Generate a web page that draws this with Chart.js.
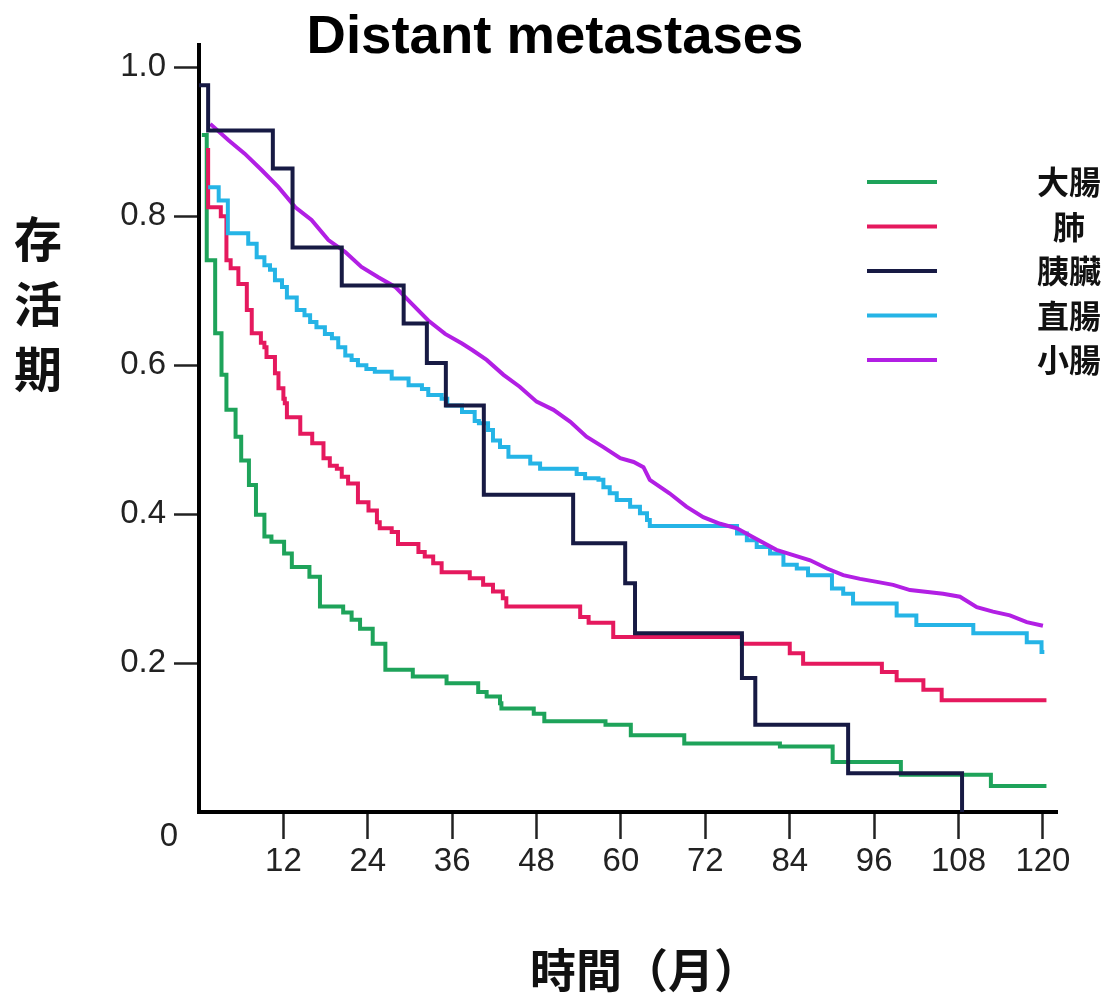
<!DOCTYPE html>
<html>
<head>
<meta charset="utf-8">
<script src="https://cdn.jsdelivr.net/npm/chart.js@4.4.1/dist/chart.umd.min.js"></script>
<style>
  html, body { margin: 0; padding: 0; background: #ffffff; overflow: hidden; }
  canvas { display: block; }
</style>
</head>
<body>
<canvas id="c" width="1110" height="997"></canvas>
<script>
// ---------------- data ----------------
const chartTitle = 'Distant metastases';
const xAxisTitle = '時間（月）';
const yAxisTitle = '存活期';
const originLabel = '0';
const seriesNames = ['大腸', '肺', '胰臟', '直腸', '小腸'];
const xTickValues = [12, 24, 36, 48, 60, 72, 84, 96, 108, 120];
const yTickValues = [0.2, 0.4, 0.6, 0.8, 1.0];

// 大腸 (colon)
const colonMonths = [0.4, 1.1, 2.3, 3.2, 3.9, 5.2, 6.0, 7.1, 8.1, 9.3, 10.3, 12.1, 13.2, 15.7, 17.2, 20.5, 21.7, 22.9, 24.7, 26.5, 30.4, 35.2, 39.7, 40.9, 42.8, 43.0, 47.6, 49.1, 57.8, 61.4, 69.0, 82.6, 90.1, 99.8, 112.6, 120.5];
const colonSurv   = [0.909, 0.741, 0.643, 0.587, 0.540, 0.504, 0.472, 0.439, 0.399, 0.370, 0.363, 0.347, 0.329, 0.316, 0.276, 0.268, 0.258, 0.246, 0.226, 0.191, 0.182, 0.173, 0.161, 0.155, 0.146, 0.139, 0.132, 0.122, 0.117, 0.103, 0.092, 0.088, 0.067, 0.050, 0.035, 0.035];

// 肺 (lung)
const lungMonths = [1.0, 1.3, 3.1, 3.9, 4.5, 5.6, 6.8, 7.5, 8.8, 9.3, 9.6, 10.8, 11.3, 12.0, 12.2, 12.5, 14.4, 16.1, 17.7, 18.6, 19.6, 20.3, 21.2, 22.6, 24.1, 25.3, 25.7, 27.4, 28.3, 31.2, 32.1, 33.3, 34.5, 38.5, 40.4, 41.8, 43.2, 43.7, 54.2, 55.4, 58.9, 77.2, 84.0, 85.9, 97.1, 99.2, 103.0, 105.6, 120.5];
const lungSurv   = [0.889, 0.812, 0.800, 0.741, 0.730, 0.709, 0.674, 0.643, 0.630, 0.624, 0.611, 0.589, 0.569, 0.555, 0.549, 0.530, 0.508, 0.495, 0.475, 0.465, 0.461, 0.450, 0.441, 0.416, 0.405, 0.389, 0.381, 0.376, 0.360, 0.349, 0.343, 0.334, 0.322, 0.314, 0.305, 0.296, 0.287, 0.276, 0.262, 0.254, 0.235, 0.226, 0.213, 0.199, 0.188, 0.177, 0.164, 0.150, 0.150];

// 胰臟 (pancreas)
const pancreasMonths = [0, 1.3, 10.5, 13.3, 20.3, 29.1, 32.4, 35.1, 40.5, 53.2, 60.6, 62.0, 77.2, 79.1, 92.3, 108.5];
const pancreasSurv   = [0.976, 0.915, 0.864, 0.758, 0.707, 0.656, 0.603, 0.546, 0.426, 0.361, 0.307, 0.240, 0.180, 0.117, 0.052, 0.0];

// 直腸 (rectum)
const rectumMonths = [1.3, 2.8, 4.1, 7.0, 8.2, 9.3, 10.1, 10.8, 11.8, 12.5, 13.9, 15.0, 15.8, 16.7, 17.9, 18.9, 19.8, 20.8, 21.7, 22.6, 23.8, 25.0, 27.4, 29.8, 31.7, 32.6, 34.5, 35.3, 37.4, 39.2, 39.8, 41.1, 41.8, 42.8, 44.0, 47.1, 48.5, 53.7, 54.9, 56.8, 57.5, 58.4, 59.4, 61.3, 62.7, 63.7, 64.1, 76.5, 77.9, 79.3, 81.2, 83.1, 85.0, 86.6, 90.0, 91.6, 93.0, 99.2, 102.0, 110.1, 117.7, 119.8, 120.2];
const rectumSurv   = [0.839, 0.821, 0.777, 0.763, 0.745, 0.734, 0.728, 0.714, 0.705, 0.691, 0.674, 0.667, 0.658, 0.651, 0.642, 0.636, 0.624, 0.613, 0.607, 0.600, 0.595, 0.591, 0.582, 0.573, 0.568, 0.560, 0.555, 0.546, 0.537, 0.525, 0.522, 0.513, 0.499, 0.490, 0.477, 0.468, 0.461, 0.454, 0.448, 0.446, 0.436, 0.428, 0.419, 0.410, 0.401, 0.392, 0.384, 0.374, 0.365, 0.356, 0.347, 0.332, 0.327, 0.318, 0.300, 0.293, 0.280, 0.264, 0.251, 0.240, 0.228, 0.215, 0.215];

// 小腸 (small intestine)
const smallIntMonths = [1.6, 4.2, 6.5, 8.9, 11.3, 13.7, 16.0, 18.4, 20.8, 23.1, 25.5, 27.9, 30.2, 32.6, 35.0, 37.4, 38.9, 40.9, 43.3, 45.6, 48.0, 50.4, 52.8, 55.1, 57.5, 59.9, 61.8, 63.2, 64.1, 66.9, 69.3, 71.7, 74.1, 76.5, 78.8, 82.1, 84.5, 86.9, 89.3, 91.6, 94.0, 96.4, 98.7, 101.1, 105.8, 108.2, 110.6, 112.9, 115.3, 117.7, 120.0];
const smallIntSurv   = [0.924, 0.902, 0.884, 0.862, 0.839, 0.812, 0.795, 0.768, 0.752, 0.732, 0.718, 0.705, 0.683, 0.660, 0.642, 0.629, 0.620, 0.607, 0.587, 0.571, 0.551, 0.540, 0.524, 0.504, 0.490, 0.475, 0.470, 0.463, 0.446, 0.428, 0.410, 0.396, 0.387, 0.381, 0.369, 0.352, 0.345, 0.338, 0.327, 0.318, 0.313, 0.309, 0.305, 0.298, 0.293, 0.289, 0.275, 0.269, 0.264, 0.255, 0.250];

// ---------------- styles ----------------
const seriesColors = ['#1ea35a', '#e5195e', '#171a44', '#25b4e6', '#b21fe4'];
const tickFont = { family: '"Liberation Sans", Arial, sans-serif', size: 33 };
const cjkFamily = '"Noto Sans CJK TC", "Noto Sans CJK SC", sans-serif';

const toPoints = (xs, ys) => xs.map((x, i) => ({ x: x, y: ys[i] }));
const seriesData = [
  toPoints(colonMonths, colonSurv),
  toPoints(lungMonths, lungSurv),
  toPoints(pancreasMonths, pancreasSurv),
  toPoints(rectumMonths, rectumSurv),
  toPoints(smallIntMonths, smallIntSurv)
];
const steppedMode = ['before', 'before', 'before', 'before', false];
const drawOrder = [4, 3, 0, 2, 1];

// centre the title over the whole canvas rather than the padded area
const titleCentering = {
  id: 'titleCentering',
  afterLayout(chart) {
    const t = chart.titleBlock;
    if (t) { t.left = 0; t.right = chart.width; }
  }
};

const extraText = {
  id: 'extraText',
  afterDraw(chart) {
    const ctx = chart.ctx;
    ctx.save();
    ctx.textAlign = 'center';
    ctx.textBaseline = 'middle';
    // origin label
    ctx.fillStyle = '#222';
    ctx.font = tickFont.size + 'px ' + tickFont.family;
    ctx.fillText(originLabel, 169, 837);
    // x axis title
    ctx.fillStyle = '#111';
    ctx.font = 'bold 46px ' + cjkFamily;
    ctx.fillText(xAxisTitle, 645, 970);
    // y axis title, stacked vertically
    ctx.font = 'bold 48px ' + cjkFamily;
    Array.from(yAxisTitle).forEach((ch, i) => ctx.fillText(ch, 38, 239 + i * 65));
    // legend
    ctx.font = 'bold 32px ' + cjkFamily;
    chart.data.datasets.forEach((ds, i) => {
      const y = 182 + i * 44.5;
      ctx.strokeStyle = ds.borderColor;
      ctx.lineWidth = 4;
      ctx.lineCap = 'butt';
      ctx.beginPath();
      ctx.moveTo(867, y);
      ctx.lineTo(937, y);
      ctx.stroke();
      ctx.fillStyle = '#111';
      ctx.fillText(ds.label, 1069, y);
    });
    ctx.restore();
  }
};

new Chart(document.getElementById('c'), {
  type: 'line',
  data: {
    datasets: seriesNames.map((name, i) => ({
      label: name,
      data: seriesData[i],
      borderColor: seriesColors[i],
      backgroundColor: seriesColors[i],
      borderWidth: 4,
      pointRadius: 0,
      pointHoverRadius: 0,
      stepped: steppedMode[i],
      tension: 0,
      fill: false,
      borderJoinStyle: 'miter',
      order: drawOrder[i]
    }))
  },
  options: {
    responsive: false,
    devicePixelRatio: 1,
    animation: false,
    layout: { padding: { left: 0, right: 53, top: 0, bottom: 0 } },
    plugins: {
      legend: { display: false },
      tooltip: { enabled: false },
      title: {
        display: true,
        text: chartTitle,
        color: '#000',
        font: { family: '"Liberation Sans", Arial, sans-serif', size: 54.5, weight: 'bold', lineHeight: 1.2 },
        padding: { top: 4.8, bottom: -24.9 }
      }
    },
    scales: {
      x: {
        type: 'linear',
        position: 'bottom',
        min: 0,
        max: 122,
        afterBuildTicks: (s) => { s.ticks = xTickValues.map(v => ({ value: v })); },
        afterFit: (s) => { s.height = 185; },
        ticks: {
          font: tickFont,
          color: '#222',
          padding: 3,
          autoSkip: false,
          maxRotation: 0,
          callback: (v) => String(v)
        },
        grid: { display: true, drawOnChartArea: false, drawTicks: true, tickLength: 27, tickWidth: 2.5, tickColor: '#222' },
        border: { display: true, color: '#000', width: 4 },
        title: { display: false }
      },
      y: {
        type: 'linear',
        min: 0,
        max: 1.0295,
        afterBuildTicks: (s) => { s.ticks = yTickValues.map(v => ({ value: v })); },
        afterFit: (s) => { s.width = 199; },
        ticks: {
          font: tickFont,
          color: '#222',
          padding: 8,
          autoSkip: false,
          callback: (v) => Number(v).toFixed(1)
        },
        grid: { display: true, drawOnChartArea: false, drawTicks: true, tickLength: 25, tickWidth: 2.5, tickColor: '#222' },
        border: { display: true, color: '#000', width: 4 },
        title: { display: false }
      }
    }
  },
  plugins: [titleCentering, extraText]
});
</script>
</body>
</html>
